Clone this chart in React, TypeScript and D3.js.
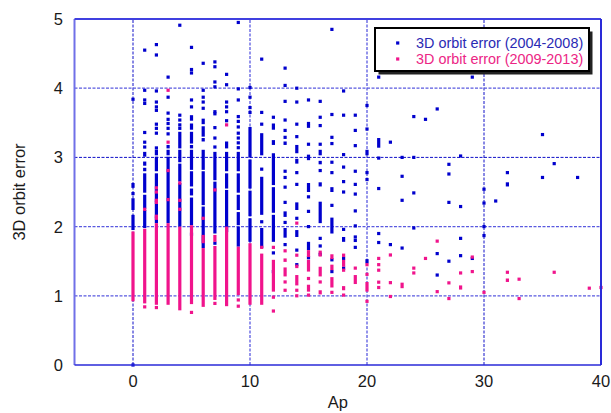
import React from "react";
import * as d3 from "d3";

// Ap index (x) vs 3D orbit error (y).
// Each series: dense runs of overlapping observations [ap, lo, hi] and isolated points [ap, values].
const seriesNames = ["3D orbit error (2004-2008)", "3D orbit error (2009-2013)"];

const blueRuns: [number, number, number][] = [
  [0, 2.56, 2.63], [0, 2.46, 2.5], [0, 2.24, 2.41], [0, 1.95, 2.17],
  [1, 3.01, 3.08], [1, 2.88, 2.94], [1, 2.8, 2.85], [1, 2.49, 2.77], [1, 2.26, 2.46], [1, 1.98, 2.24],
  [2, 3.13, 3.16], [2, 3.03, 3.11], [2, 2.8, 3.01], [2, 2.05, 2.77],
  [3, 3.13, 3.18], [3, 3.03, 3.11], [3, 2.05, 3.01],
  [4, 3.13, 3.37], [4, 2.93, 3.11], [4, 2.65, 2.91], [4, 2.0, 2.63],
  [5, 3.53, 3.61], [5, 3.4, 3.49], [5, 3.2, 3.37], [5, 3.13, 3.18], [5, 2.82, 3.11], [5, 2.58, 2.8], [5, 2.45, 2.55], [5, 2.02, 2.42],
  [6, 3.48, 3.56], [6, 3.3, 3.45], [6, 3.23, 3.28], [6, 2.82, 3.11], [6, 2.31, 2.8], [6, 1.69, 2.29],
  [7, 2.67, 3.08], [7, 1.9, 2.65],
  [8, 3.13, 3.23], [8, 2.8, 3.08], [8, 2.55, 2.77], [8, 1.92, 2.53],
  [9, 2.8, 3.08], [9, 2.49, 2.77], [9, 2.24, 2.46], [9, 2.02, 2.21], [9, 1.71, 2.0],
  [10, 3.0, 3.44], [10, 2.55, 2.97], [10, 2.15, 2.52], [10, 1.78, 2.12],
  [11, 3.03, 3.35], [11, 2.17, 2.72], [11, 1.69, 1.98],
  [12, 3.4, 3.49], [12, 3.18, 3.25], [12, 2.6, 3.06], [12, 2.2, 2.57], [12, 1.78, 2.17],
  [13, 3.18, 3.23], [13, 2.14, 2.22], [13, 1.84, 1.98],
  [14, 3.06, 3.18], [14, 2.91, 2.98], [14, 2.24, 2.35], [14, 1.85, 1.95],
  [15, 2.96, 3.04], [15, 2.5, 2.63], [15, 1.66, 1.78],
  [16, 3.03, 3.11], [16, 2.9, 2.95], [16, 2.58, 2.64], [16, 2.05, 2.36],
  [17, 2.5, 2.57], [17, 2.29, 2.33], [17, 1.9, 2.13],
  [18, 1.78, 1.85],
  [19, 2.22, 2.25],
  [20, 3.03, 3.11], [20, 1.47, 1.53],
  [21, 3.14, 3.28],
  [23, 2.71, 2.75],
  [24, 2.47, 2.51],
  [32, 2.58, 2.64],
];

const bluePoints: [number, number[]][] = [
  [0, [3.84, 0.0]],
  [1, [4.55, 3.97, 3.83, 3.78, 3.36, 3.22, 3.15]],
  [2, [4.63, 4.48, 3.96, 3.8, 3.73, 3.68, 3.48, 3.42, 3.35]],
  [3, [4.16, 3.87, 3.64, 3.55, 3.49, 3.42, 3.34]],
  [4, [4.91, 3.61, 3.54, 3.47, 3.42]],
  [5, [4.59, 4.27, 4.22, 3.83, 3.73, 1.89]],
  [6, [4.36, 3.97, 3.87, 3.8, 3.71]],
  [7, [4.38, 4.31, 4.09, 4.02, 3.66, 3.63, 3.43, 3.28, 3.15, 1.76]],
  [8, [4.2, 4.05, 3.8, 3.73, 3.66, 3.53]],
  [9, [4.95, 3.99, 3.83, 3.59, 3.52, 3.44, 3.35, 3.28, 3.21, 3.14]],
  [10, [4.01, 3.87, 3.72, 3.65]],
  [11, [4.42, 3.65, 3.48, 2.83, 2.07]],
  [12, [3.58, 1.62, 1.35]],
  [13, [4.29, 4.04, 3.81, 3.54, 3.39, 3.29, 2.8, 2.71, 2.57, 2.35, 2.06, 1.74]],
  [14, [4.0, 3.8, 3.48, 3.3, 2.78, 2.61, 2.12, 1.66, 1.45]],
  [15, [3.83, 3.49, 3.45, 3.19, 2.43, 2.22, 2.0, 1.55]],
  [16, [3.81, 3.58, 3.46, 3.19, 2.81, 1.83, 1.72, 1.6]],
  [17, [4.85, 3.62, 3.29, 3.2, 2.93, 2.78, 1.52, 1.35]],
  [18, [3.96, 3.61, 3.04, 2.86, 2.65, 2.5, 1.96, 1.54, 1.4]],
  [19, [3.61, 3.39, 3.17, 2.8, 2.61, 2.47, 2.01, 1.85, 1.8, 1.7]],
  [20, [3.75, 3.41, 2.78, 2.68]],
  [21, [4.16, 2.99, 2.55, 1.9, 1.77]],
  [22, [3.22, 1.74]],
  [23, [3.0, 2.38, 1.69]],
  [24, [3.59, 3.0, 1.98]],
  [25, [3.55]],
  [26, [3.7, 1.61, 1.3]],
  [27, [2.9, 2.76, 2.35, 1.5]],
  [28, [3.02, 2.29, 1.83, 1.58]],
  [29, [4.16, 1.54]],
  [30, [2.54, 2.34, 2.0, 1.87]],
  [31, [2.37]],
  [32, [2.78]],
  [35, [3.33, 2.71]],
  [36, [2.91]],
  [38, [2.71]],
];

const pinkRuns: [number, number, number][] = [
  [0, 0.92, 1.93],
  [1, 0.89, 1.97],
  [2, 0.87, 2.05],
  [3, 0.87, 2.05],
  [4, 0.79, 2.0],
  [5, 0.88, 2.02],
  [6, 1.76, 1.88], [6, 0.84, 1.69],
  [7, 1.78, 1.88], [7, 0.94, 1.72],
  [8, 0.85, 2.0],
  [9, 1.01, 1.71],
  [10, 0.87, 1.76],
  [11, 0.87, 1.61],
  [12, 1.06, 1.52],
  [13, 1.49, 1.54], [13, 1.28, 1.41],
  [14, 1.58, 1.61], [14, 1.4, 1.45], [14, 1.15, 1.3],
  [15, 1.56, 1.66], [15, 1.35, 1.52], [15, 1.06, 1.16],
  [16, 1.28, 1.42], [16, 1.02, 1.08],
  [17, 1.53, 1.6], [17, 1.37, 1.45], [17, 1.12, 1.27],
  [18, 1.56, 1.61], [18, 1.42, 1.52], [18, 1.08, 1.14],
  [19, 1.17, 1.3],
  [20, 1.06, 1.2],
  [21, 1.19, 1.22],
  [23, 1.11, 1.19],
  [27, 1.17, 1.21],
  [28, 1.09, 1.15],
  [32, 1.2, 1.25],
];

const pinkPoints: [number, number[]][] = [
  [1, [2.25, 0.84]],
  [2, [2.56, 2.5, 2.38, 2.35, 2.15, 2.12, 0.83]],
  [3, [3.97, 3.22, 2.81, 2.39]],
  [4, [2.63, 2.38, 2.25]],
  [5, [0.76]],
  [6, [2.12]],
  [7, [2.53, 0.89]],
  [8, [3.47]],
  [9, [0.94, 0.85]],
  [11, [1.7]],
  [12, [1.7, 0.98, 0.78]],
  [13, [1.65, 1.2, 1.08]],
  [14, [2.05, 1.08, 1.0]],
  [15, [1.25, 1.01]],
  [16, [1.63, 1.59, 1.2]],
  [17, [1.05]],
  [18, [1.37, 1.01]],
  [19, [1.4]],
  [20, [1.45, 1.31, 0.92]],
  [21, [1.54, 1.45, 1.37, 1.12]],
  [22, [1.59, 1.19, 0.99]],
  [24, [1.4, 1.33]],
  [25, [1.54]],
  [26, [1.79, 1.06]],
  [27, [0.96]],
  [28, [1.33]],
  [29, [1.56, 1.35]],
  [30, [1.05]],
  [32, [1.34]],
  [33, [1.24, 0.96]],
  [36, [1.34]],
  [39, [1.11]],
  [40, [1.12]],
];

const xTicks = [0, 10, 20, 30, 40];
const yTicks = [0, 1, 2, 3, 4, 5];
const xGrid = [0, 10, 20, 30];
const yGrid = [1, 2, 3, 4];

const BLUE = "#0000cd";
const PINK = "#f0148c";
const FONT = "'Liberation Sans', Arial, sans-serif";
const M = 3.2; // marker size

export default function App() {
  const width = 611;
  const height = 413;
  const x = d3.scaleLinear().domain([-5, 40]).range([74.5, 601]);
  const y = d3.scaleLinear().domain([0, 5]).range([365, 19]);
  const [x0, x1] = x.range();
  const [yb, yt] = y.range();

  // a run spans the outer edges of its stacked markers
  const runs = (data: [number, number, number][], color: string, key: string) =>
    data.map(([ap, lo, hi], i) => (
      <rect
        key={`${key}${i}`}
        x={x(ap) - M / 2}
        y={y(hi)}
        width={M}
        height={Math.max(M, y(lo) - y(hi))}
        fill={color}
      />
    ));

  const points = (data: [number, number[]][], color: string, key: string) =>
    data.flatMap(([ap, vals], i) =>
      vals.map((v, j) => (
        <rect
          key={`${key}${i}-${j}`}
          x={x(ap) - M / 2}
          y={y(v) - M / 2}
          width={M}
          height={M}
          fill={color}
        />
      ))
    );

  const darkX = new Set([0, 30]);
  const darkY = new Set([3]);

  return (
    <svg
      width={width}
      height={height}
      style={{ position: "absolute", left: 0, top: 0, background: "#fff" }}
      fontFamily={FONT}
    >
      {/* grid */}
      {xGrid.map((v) => (
        <line
          key={`gx${v}`}
          x1={x(v)}
          x2={x(v)}
          y1={yb}
          y2={yt}
          stroke={darkX.has(v) ? "#1010c8" : "#5a5ae0"}
          strokeWidth={darkX.has(v) ? 1 : 1.3}
          strokeDasharray="3 1.5"
        />
      ))}
      {yGrid.map((v) => (
        <line
          key={`gy${v}`}
          x1={x0}
          x2={x1}
          y1={y(v)}
          y2={y(v)}
          stroke={darkY.has(v) ? "#1010c8" : "#5a5ae0"}
          strokeWidth={darkY.has(v) ? 1 : 1.3}
          strokeDasharray="3 1.5"
        />
      ))}

      {/* data */}
      <g>{runs(blueRuns, BLUE, "br")}{points(bluePoints, BLUE, "bp")}</g>
      <g>{runs(pinkRuns, PINK, "pr")}{points(pinkPoints, PINK, "pp")}</g>

      {/* frame */}
      <line x1={x0} x2={x0} y1={yt} y2={yb} stroke="#7070e8" strokeWidth={2} />
      <line x1={x0} x2={x1} y1={yt} y2={yt} stroke="#4040e0" strokeWidth={2} />
      <line x1={x0} x2={x1} y1={yb} y2={yb} stroke="#2a2ad8" strokeWidth={1.5} />
      <line x1={x1} x2={x1} y1={yt} y2={yb} stroke="#2a2ad8" strokeWidth={2} />

      {/* ticks */}
      {xTicks.map((v) => (
        <text key={`tx${v}`} x={x(v)} y={387} textAnchor="middle" fontSize={16.5} fill="#1a1a1a">
          {v}
        </text>
      ))}
      {yTicks.map((v) => (
        <text key={`ty${v}`} x={63} y={y(v) + 6} textAnchor="end" fontSize={16.5} fill="#1a1a1a">
          {v}
        </text>
      ))}

      {/* axis titles */}
      <text x={(x0 + x1) / 2} y={408} textAnchor="middle" fontSize={16.5} fill="#1a1a1a">
        Ap
      </text>
      <text
        transform={`translate(25,${(yt + yb) / 2}) rotate(-90)`}
        textAnchor="middle"
        fontSize={16.5}
        fill="#1a1a1a"
      >
        3D orbit error
      </text>

      {/* legend */}
      <g>
        <rect x={378.5} y={31.5} width={214} height={43} fill="#222" />
        <rect x={375} y={28} width={214} height={43} fill="#fff" stroke="#000" strokeWidth={2} />
        {seriesNames.map((name, i) => {
          const cy = 43 + i * 16;
          const c = i === 0 ? BLUE : PINK;
          return (
            <g key={name}>
              <rect x={397.7 - M / 2} y={cy - M / 2} width={M} height={M} fill={c} />
              <text x={416} y={cy + 4.5} fontSize={14.4} fill={i === 0 ? "#2a2ab4" : "#ec2585"}>
                {name}
              </text>
            </g>
          );
        })}
      </g>
    </svg>
  );
}
